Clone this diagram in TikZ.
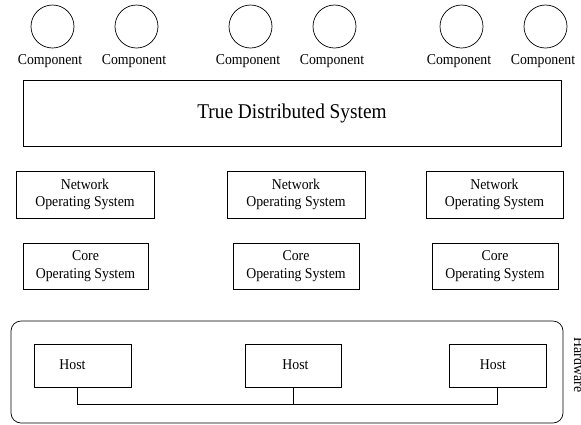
\documentclass[tikz,border=0pt]{standalone}
\usepackage{fontspec}
\setmainfont{Liberation Serif}[FakeStretch=0.92]
\begin{document}
\begin{tikzpicture}[x=1pt,y=-1pt,
  line width=0.7pt,
  small/.style={font=\fontsize{15}{17.5}\selectfont},
  big/.style={font=\fontsize{21}{25}\selectfont},
  comp/.style={draw,circle,minimum size=43pt,inner sep=0pt},
  complabel/.style={small,anchor=base,inner sep=0pt},
  osbox/.style={draw,rectangle,small,align=center,inner sep=0pt},
  hostbox/.style={draw,rectangle,minimum width=97pt,minimum height=43pt,inner sep=0pt},
  hostlabel/.style={small,anchor=base,inner sep=0pt}]
\useasboundingbox (0,0) rectangle (581,424);

% components with their labels
\foreach \i/\cx in {1/52.5,2/136.5,3/250.5,4/334.5,5/461.5,6/545.5}{
  \node[comp] (c\i) at (\cx,26.5) {};
  \node[complabel] (c\i l) at (\cx-2.5,64) {Component};
}

% distributed layer
\node[draw,rectangle,big,minimum width=538pt,minimum height=66.5pt,inner sep=0pt]
  (tds) at (292,113.3) {True Distributed System};

% network operating systems
\node[osbox,minimum width=138pt,minimum height=47pt] (n1) at (85,194.5) {Network\\Operating System};
\node[osbox,minimum width=138pt,minimum height=47pt] (n2) at (296,194.5) {Network\\Operating System};
\node[osbox,minimum width=137pt,minimum height=47pt] (n3) at (494.5,194.5) {Network\\Operating System};

% core operating systems
\node[osbox,minimum width=125pt,minimum height=46pt] (k1) at (85.5,266) {Core\\Operating System};
\node[osbox,minimum width=126pt,minimum height=46pt] (k2) at (296,266) {Core\\Operating System};
\node[osbox,minimum width=126pt,minimum height=46pt] (k3) at (495,266) {Core\\Operating System};

% hardware frame
\node[draw,rectangle,rounded corners=10pt,minimum width=552pt,minimum height=102pt,inner sep=0pt]
  (hw) at (287,372) {};
\node[small,rotate=-90,anchor=base,inner sep=0pt] (hwl) at (574,365) {Hardware};

% hosts
\node[hostbox] (h1) at (82.5,365.5) {};
\node[hostbox,minimum width=96pt] (h2) at (293,365.5) {};
\node[hostbox] (h3) at (497.5,365.5) {};
\node[hostlabel] (h1l) at (72.5,369) {Host};
\node[hostlabel] (h2l) at (295.5,369) {Host};
\node[hostlabel] (h3l) at (493,369) {Host};

% network connecting the hosts
\coordinate (b1) at ([xshift=-5.5pt]h1.south);
\coordinate (bus) at (0,404);
\draw (b1) -- (b1 |- bus) -- (h3.south |- bus) -- (h3.south);
\draw (h2.south) -- (h2.south |- bus);
\end{tikzpicture}
\end{document}
